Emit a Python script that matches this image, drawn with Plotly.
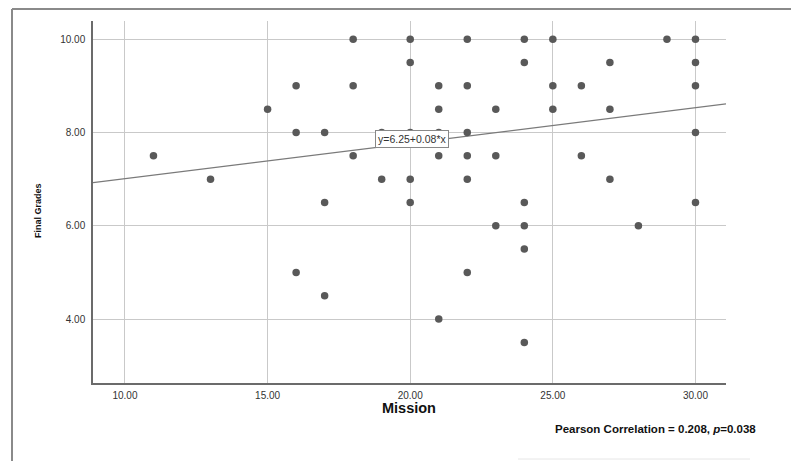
import plotly.graph_objects as go

# ---- data ----
mission = [11, 13, 15, 16, 16, 16, 17, 17, 17, 18, 18, 18, 19, 19,
           20, 20, 20, 20, 20, 21, 21, 21, 21, 21,
           22, 22, 22, 22, 22, 22, 23, 23, 23,
           24, 24, 24, 24, 24, 24, 25, 25, 25, 26, 26,
           27, 27, 27, 28, 29, 30, 30, 30, 30, 30]
final_grades = [7.5, 7.0, 8.5, 9.0, 8.0, 5.0, 8.0, 6.5, 4.5, 10.0, 9.0, 7.5, 8.0, 7.0,
                10.0, 9.5, 8.0, 7.0, 6.5, 9.0, 8.5, 8.0, 7.5, 4.0,
                10.0, 9.0, 8.0, 7.5, 7.0, 5.0, 8.5, 7.5, 6.0,
                10.0, 9.5, 6.5, 6.0, 5.5, 3.5, 10.0, 9.0, 8.5, 9.0, 7.5,
                9.5, 8.5, 7.0, 6.0, 10.0, 10.0, 9.5, 9.0, 8.0, 6.5]

fit_intercept = 6.25
fit_slope = 0.076
fit_label = "y=6.25+0.08*x"

x_range = [8.88, 31.07]
y_range = [2.63, 10.39]
x_ticks = [10, 15, 20, 25, 30]
y_ticks = [4, 6, 8, 10]

x_title = "Mission"
y_title = "Final Grades"
note_text = "Pearson Correlation = 0.208, <i>p</i>=0.038"

# ---- layout geometry (page pixels) ----
W, H = 799, 461
OFF = 8  # default page body margin
L, R, T, B = 93, 726, 21, 383


def px(xp):
    return (xp - L) / (R - L)


def py(yp):
    return (B - yp) / (B - T)


fit_x = x_range
fit_y = [fit_intercept + fit_slope * v for v in fit_x]

fig = go.Figure()
fig.add_trace(go.Scatter(
    x=fit_x, y=fit_y, mode="lines",
    line=dict(color="#7a7a7a", width=1.2),
    hoverinfo="skip", showlegend=False,
))
fig.add_trace(go.Scatter(
    x=mission, y=final_grades, mode="markers",
    marker=dict(color="#595959", size=7.5, line=dict(width=0)),
    showlegend=False,
))

font_family = "Liberation Sans, Arial, sans-serif"

fig.update_layout(
    width=W - OFF, height=H - OFF,
    margin=dict(l=L - OFF, r=W - R, t=T - OFF, b=H - B, pad=0),
    paper_bgcolor="white", plot_bgcolor="white",
    font=dict(family=font_family, color="#222"),
    xaxis=dict(
        range=x_range, tickvals=x_ticks, tickformat=".2f",
        showgrid=True, gridcolor="#c9c9c9", gridwidth=1,
        showline=True, linecolor="#6b6b6b", linewidth=1.5,
        zeroline=False, ticks="", tickfont=dict(size=10, color="#333"),
        ticklabelstandoff=2,
    ),
    yaxis=dict(
        range=y_range, tickvals=y_ticks, tickformat=".2f",
        showgrid=True, gridcolor="#c9c9c9", gridwidth=1,
        showline=True, linecolor="#6b6b6b", linewidth=1.5,
        zeroline=False, ticks="", tickfont=dict(size=10, color="#333"),
        ticklabelstandoff=4,
    ),
    annotations=[
        dict(text=fit_label, x=20.05, y=7.87, xref="x", yref="y",
             showarrow=False, bgcolor="white", bordercolor="#888",
             borderwidth=1, borderpad=2,
             font=dict(size=10.5, color="#333")),
        dict(text="<b>" + y_title + "</b>", x=px(31), y=py(211),
             xref="paper", yref="paper", textangle=-90, showarrow=False,
             font=dict(size=9, color="#111")),
        dict(text="<b>" + x_title + "</b>", x=px(409), y=py(418),
             xref="paper", yref="paper", showarrow=False,
             font=dict(size=14.5, color="#111")),
        dict(text="<b>" + note_text + "</b>", x=px(758), y=py(437),
             xref="paper", yref="paper", xanchor="right", showarrow=False,
             font=dict(size=11.5, color="#111")),
    ],
    shapes=[
        dict(type="line", xref="paper", yref="paper",
             x0=px(12), x1=px(805), y0=py(9), y1=py(9),
             line=dict(color="#8a8a8a", width=2), layer="below"),
        dict(type="line", xref="paper", yref="paper",
             x0=px(12), x1=px(12), y0=py(9), y1=py(470),
             line=dict(color="#8a8a8a", width=2), layer="below"),
        dict(type="line", xref="paper", yref="paper",
             x0=px(518), x1=px(750), y0=py(459), y1=py(459),
             line=dict(color="#e6e6e6", width=1), layer="below"),
    ],
)

fig.write_html("out.html")
